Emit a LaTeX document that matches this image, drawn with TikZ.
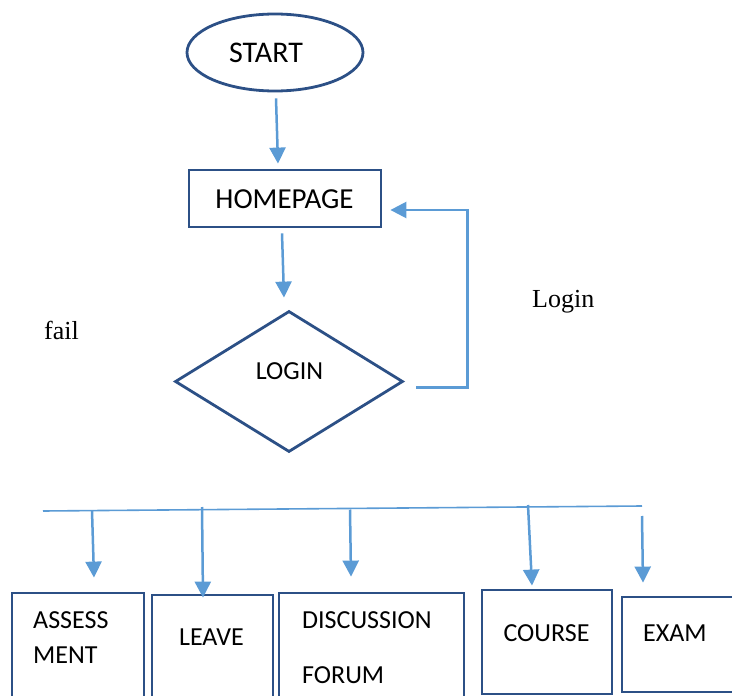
\documentclass[tikz,border=0pt]{standalone}
\usepackage{fontspec}
\setmainfont{Carlito}
\newfontfamily\serifc{Liberation Serif}
\usetikzlibrary{shapes.geometric,arrows.meta}
\definecolor{dblue}{RGB}{44,80,134}
\definecolor{lblue}{RGB}{91,155,213}
\tikzset{
  outl/.style={draw=dblue,line width=2.8pt,inner sep=0pt},
  boxnode/.style={outl,rectangle},
  arr/.style={draw=lblue,line width=2.5pt,-{Triangle[length=16pt,width=16pt]}},
  bus/.style={draw=lblue,line width=1.6pt},
  lbl/.style={font=\fontsize{26}{30}\selectfont,anchor=base,inner sep=0pt},
  lbll/.style={font=\fontsize{26}{30}\selectfont,anchor=base west,inner sep=0pt},
  slbl/.style={font=\serifc\fontsize{26}{30}\selectfont,anchor=base west,inner sep=0pt},
}
\begin{document}
\begin{tikzpicture}[x=1pt,y=-1pt]
\useasboundingbox (0,0) rectangle (732,696);
% main shapes
\node[outl,ellipse,minimum width=176pt,minimum height=77pt] (start) at (275,52.5) {};
\node[boxnode,minimum width=192pt,minimum height=57pt] (home) at (285,198.5) {};
\node[outl,diamond,minimum width=228pt,minimum height=141pt] (login) at (289,381.5) {};
% labels
\node[lbl,font=\fontsize{30}{34}\selectfont] (tstart) at (266,63) {START};
\node[lbl,font=\fontsize{29}{33}\selectfont] (thome) at (284.5,208.5) {HOMEPAGE};
\node[lbl] (tlogin) at (289.5,379) {LOGIN};
\node[slbl] (tlog) at (532,307) {Login};
\node[slbl] (tfail) at (44,339) {fail};
% connectors top
\draw[arr] ([xshift=1pt,yshift=-6pt]start.south) -- ([xshift=-7pt,yshift=5pt]home.north);
\draw[arr] ([xshift=-3pt,yshift=-5pt]home.south) -- ([xshift=-5pt,yshift=12pt]login.north);
\draw[arr] ([xshift=12pt,yshift=-6pt]login.east) -- ++(51,0) |- ([xshift=8pt,yshift=-11.5pt]home.east);
% bus
\coordinate (busL) at (43,511);
\coordinate (busR) at (642,506);
\draw[bus] (busL) -- (busR);
\coordinate (b1) at (92,510.6);
\coordinate (b2) at (202,507);
\coordinate (b3) at (350,509.5);
\coordinate (b4) at (528,505);
\coordinate (b5) at (642,516);
% bottom boxes
\node[boxnode,minimum width=132pt,minimum height=127pt] (assess) at (78,656.5) {};
\node[boxnode,minimum width=121pt,minimum height=125pt] (leave) at (212.5,657.5) {};
\node[boxnode,minimum width=185pt,minimum height=127pt] (disc) at (371.5,656.5) {};
\node[boxnode,minimum width=130pt,minimum height=104pt] (course) at (547,642) {};
\node[boxnode,minimum width=123pt,minimum height=95pt] (exam) at (683.5,644.5) {};
% bottom labels
\node[lbll] (ta1) at (33,628) {ASSESS};
\node[lbll] (ta2) at (33,663) {MENT};
\node[lbl] (tleave) at (211.5,645) {LEAVE};
\node[lbll] (td1) at (302,628) {DISCUSSION};
\node[lbll] (td2) at (302,683) {FORUM};
\node[lbl] (tcourse) at (546.5,641) {COURSE};
\node[lbll] (texam) at (643,641) {EXAM};
% bottom arrows
\draw[arr] (b1) -- ([xshift=16pt,yshift=14pt]assess.north);
\draw[arr] (b2) -- ([xshift=-9.5pt,yshift=-4pt]leave.north);
\draw[arr] (b3) -- ([xshift=-20.5pt,yshift=15pt]disc.north);
\draw[arr] (b4) -- ([xshift=-15pt,yshift=3pt]course.north);
\draw[arr] (b5) -- ([xshift=-40.5pt,yshift=13pt]exam.north);
\end{tikzpicture}
\end{document}
